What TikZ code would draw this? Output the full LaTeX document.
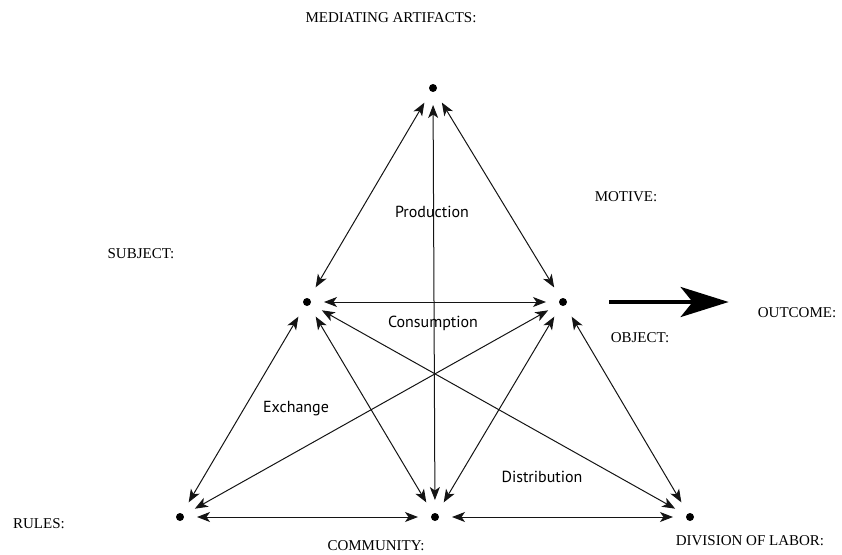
\documentclass[tikz,border=0pt]{standalone}
\usepackage{fontspec}
\setmainfont{Liberation Serif}
\newfontfamily\actfont{PT Sans}
\usetikzlibrary{arrows.meta}
\definecolor{figline}{RGB}{20,20,20}
\tikzset{
  dot/.style  ={circle, fill=black, inner sep=0pt, minimum size=8pt, outer sep=13pt},
  rel/.style  ={draw=figline, line width=1pt,
                {Stealth[length=13pt,width=10pt,inset=3.5pt]}-{Stealth[length=13pt,width=10pt,inset=3.5pt]}},
  big/.style  ={draw=black, line width=4pt, -{Stealth[length=48pt,width=30pt,inset=12pt]}},
  ttl/.style  ={font=\fontsize{15}{17}\selectfont, inner sep=1pt},
  act/.style  ={font=\actfont\fontsize{16}{18}\selectfont, inner sep=1pt},
}

\begin{document}
\begin{tikzpicture}[x=1pt,y=-1pt]
  \useasboundingbox (0,0) rectangle (842,554);
  % the six corners
  \node[dot] (art) at (433,88) {};
  \node[dot] (sub) at (307,302) {};
  \node[dot] (obj) at (563,302) {};
  \node[dot] (rul) at (180,517) {};
  \node[dot] (com) at (435,517) {};
  \node[dot] (div) at (690,517) {};
  % titles
  \node[ttl] (tart) at (391,18) {MEDIATING ARTIFACTS:};
  \node[ttl] (tmot) at (626,197) {MOTIVE:};
  \node[ttl] (tsub) at (141,254) {SUBJECT:};
  \node[ttl] (tout) at (797,313) {OUTCOME:};
  \node[ttl] (tobj) at (640,338) {OBJECT:};
  \node[ttl] (trul) at (39,524) {RULES:};
  \node[ttl] (tcom) at (376,546) {COMMUNITY:};
  \node[ttl] (tdiv) at (750,541) {DIVISION OF LABOR:};
  % relations
  \draw[rel] (art) -- (sub);
  \draw[rel] (art) -- (obj);
  \draw[rel] (art) -- (com);
  \draw[rel] (sub) -- (obj);
  \draw[rel] (sub) -- (rul);
  \draw[rel] (sub) -- (com);
  \draw[rel] (sub) -- (div);
  \draw[rel] (obj) -- (rul);
  \draw[rel] (obj) -- (com);
  \draw[rel] (obj) -- (div);
  \draw[rel] (rul) -- (com);
  \draw[rel] (com) -- (div);
  \draw[big] ([xshift=46pt]obj.center) -- ([xshift=-28pt]tout.west |- obj.center);
  % activities
  \node[act] (lpro) at (432,212) {Production};
  \node[act] (lcon) at (433,323) {Consumption};
  \node[act] (lexc) at (296,409) {Exchange};
  \node[act] (ldis) at (542,477) {Distribution};
\end{tikzpicture}
\end{document}
